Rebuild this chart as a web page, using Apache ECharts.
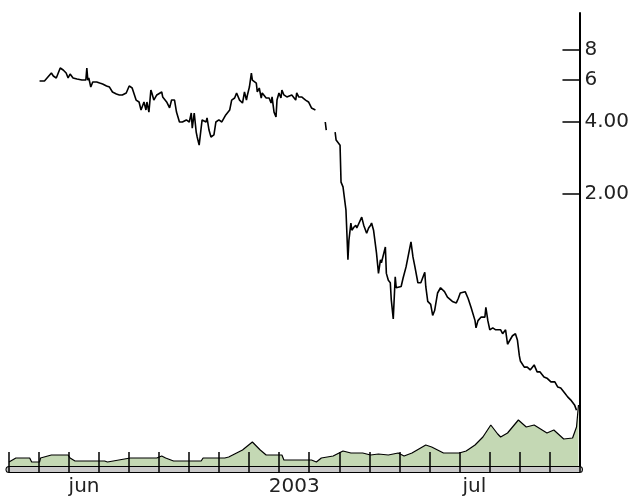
<!DOCTYPE html>
<html><head><meta charset="utf-8">
<script src="https://cdn.jsdelivr.net/npm/echarts@6/dist/echarts.min.js"></script>
<style>html,body{margin:0;padding:0;background:#fff;}#c{width:632px;height:499px;}</style>
</head><body><div id="c"></div>
<script>
// months shown on the bottom ruler (Apr 2002 .. Oct 2003)
const monthLabels = ['', '', 'jun', '', '', '', '', '', '', '2003', '', '', '', '', '', 'jul', '', '', ''];
// y-axis ticks
const yTickValues = [2, 4, 6, 8];
const yTickLabels = ['2.00', '4.00', '6', '8'];
// price series: day offset since 2002-04-01, price
const priceDays = [31,36,38,43,45,48,52,55,58,60,62,65,69,74,78,79,80,81,83,85,89,92,95,99,102,105,109,112,115,119,122,125,129,132,134,137,139,140,142,144,145,147,150,155,156,160,163,165,168,170,173,176,180,183,185,186,188,190,191,193,195,196,200,201,203,205,208,210,213,216,220,224,226,229,231,234,237,239,241,242,244,246,247,251,252,254,256,257,261,264,266,267,269,271,272,274,276,277,279,281,282,284,287,291,292,294,297,301,304,307,311,314,321,322,327,331,332,336,337,339,342,343,344,345,347,348,350,352,353,355,358,360,363,365,367,368,370,373,375,377,378,382,383,385,387,388,390,392,393,395,398,400,403,405,408,410,412,415,418,422,423,425,428,430,432,435,438,442,445,450,454,456,458,459,463,466,469,473,474,476,479,483,484,486,488,491,494,496,499,501,504,506,508,511,514,516,518,519,523,526,529,533,536,539,543,546,550,554,557,560,564,567,570,574,576];
const priceValues = [5.94,5.94,5.99,6.41,6.23,6.11,6.73,6.60,6.41,6.11,6.35,6.11,6.05,5.99,5.99,6.73,5.99,6.11,5.60,5.88,5.88,5.82,5.77,5.66,5.60,5.34,5.24,5.19,5.19,5.29,5.66,5.55,4.94,4.85,4.49,4.85,4.49,4.85,4.40,5.44,5.29,4.94,5.19,5.34,5.09,4.85,4.58,4.94,4.94,4.40,4.00,4.00,4.08,4.00,4.36,3.77,4.36,3.63,3.46,3.20,3.77,4.08,4.00,4.16,3.70,3.46,3.53,4.00,4.08,4.00,4.28,4.49,4.94,5.04,5.29,4.94,4.80,5.34,4.94,5.19,5.60,6.41,5.99,5.82,5.34,5.55,5.04,5.29,5.04,5.04,4.80,5.09,4.40,4.20,4.94,5.29,5.04,5.44,5.19,5.29,5.09,5.09,5.19,4.94,5.29,5.09,5.09,4.94,4.85,4.58,4.49,null,4.00,3.70,null,3.63,3.36,3.20,2.24,2.14,1.71,1.35,1.06,1.28,1.51,1.41,1.45,1.48,1.44,1.45,1.60,1.48,1.37,1.44,1.48,1.51,1.41,1.13,0.93,1.06,1.03,1.20,0.93,0.87,0.85,0.72,0.60,0.90,0.81,0.82,0.82,0.89,0.99,1.09,1.26,1.09,0.99,0.85,0.85,0.94,0.82,0.71,0.69,0.62,0.65,0.77,0.81,0.78,0.74,0.71,0.70,0.73,0.77,0.76,0.78,0.73,0.67,0.59,0.55,0.59,0.61,0.61,0.67,0.59,0.54,0.55,0.54,0.55,0.54,0.52,0.54,0.47,0.47,0.51,0.52,0.49,0.42,0.40,0.377,0.377,0.367,0.385,0.360,0.360,0.343,0.339,0.327,0.327,0.311,0.308,0.294,0.283,0.275,0.262,0.249];
// volume series
const volDays = [0,7,21,23,31,32,43,60,62,67,97,100,123,150,155,159,167,195,197,219,223,237,247,255,261,277,279,307,312,317,329,339,347,359,367,375,385,395,401,409,423,429,441,457,464,473,481,489,496,499,506,517,525,533,546,553,563,572,576,578];
const volValues = [0.4,0.8,0.8,0.4,0.4,0.8,1.1,1.1,0.8,0.5,0.5,0.4,0.8,0.8,1.0,0.8,0.5,0.5,0.8,0.8,0.9,1.6,2.4,1.6,1.1,1.1,0.6,0.6,0.4,0.8,1.0,1.5,1.3,1.3,1.1,1.2,1.1,1.3,1.0,1.3,2.1,1.9,1.3,1.3,1.5,2.1,2.9,4.1,3.2,2.9,3.3,4.6,3.9,4.1,3.3,3.6,2.7,2.8,3.9,6.1];

const priceData = priceDays.map((d, i) => [d, priceValues[i] == null ? '-' : priceValues[i]]);
const volData = volDays.map((d, i) => [d, volValues[i]]);

const chart = echarts.init(document.getElementById('c'), null, {renderer: 'canvas'});
const font = '"DejaVu Sans", Verdana, sans-serif';
chart.setOption({
  animation: false,
  backgroundColor: '#ffffff',
  grid: {left: 9, right: 50, top: 13, bottom: 33},
  xAxis: [
    {type: 'value', min: 0, max: 579, show: false},
    {type: 'category', data: monthLabels, boundaryGap: true, position: 'bottom', offset: 3, z: 1,
     axisLine: {show: true, onZero: false, lineStyle: {color: '#000', width: 7}},
     axisTick: {show: false},
     axisLabel: {show: true, interval: 0, margin: 8, color: '#222', fontSize: 20, fontFamily: font}},
    {type: 'category', data: monthLabels, boundaryGap: true, position: 'bottom', offset: 3, z: 2,
     axisLine: {show: true, onZero: false, lineStyle: {color: '#c8c8c8', width: 5}},
     axisTick: {show: false}, axisLabel: {show: false}},
    {type: 'category', data: monthLabels, boundaryGap: true, position: 'bottom', offset: 6, z: 3,
     axisLine: {show: false, onZero: false},
     axisTick: {show: true, inside: true, length: 20, interval: 0, lineStyle: {color: '#000', width: 1.5}},
     axisLabel: {show: false}}
  ],
  yAxis: [
    {type: 'log', position: 'right', min: 0.1454, max: 11.43, logBase: 10,
     axisLine: {show: true, onZero: false, lineStyle: {color: '#000', width: 2}},
     axisTick: {show: true, inside: true, length: 17, customValues: yTickValues, lineStyle: {color: '#000', width: 1.5}},
     axisLabel: {show: true, inside: false, margin: 5, customValues: yTickValues, color: '#222', fontSize: 20, fontFamily: font,
       formatter: v => { const i = yTickValues.indexOf(Math.round(v)); return i >= 0 ? yTickLabels[i] : ''; }},
     splitLine: {show: false}},
    {type: 'value', min: 0, max: 45.3, show: false}
  ],
  series: [
    {type: 'line', name: 'volume', xAxisIndex: 0, yAxisIndex: 1, data: volData, symbol: 'none', z: 2,
     lineStyle: {color: '#000', width: 1.2}, areaStyle: {color: '#c4d8b4', opacity: 1}},
    {type: 'line', name: 'price', xAxisIndex: 0, yAxisIndex: 0, data: priceData, symbol: 'none', z: 3,
     connectNulls: false, lineStyle: {color: '#000', width: 1.6}}
  ]
});
</script></body></html>
